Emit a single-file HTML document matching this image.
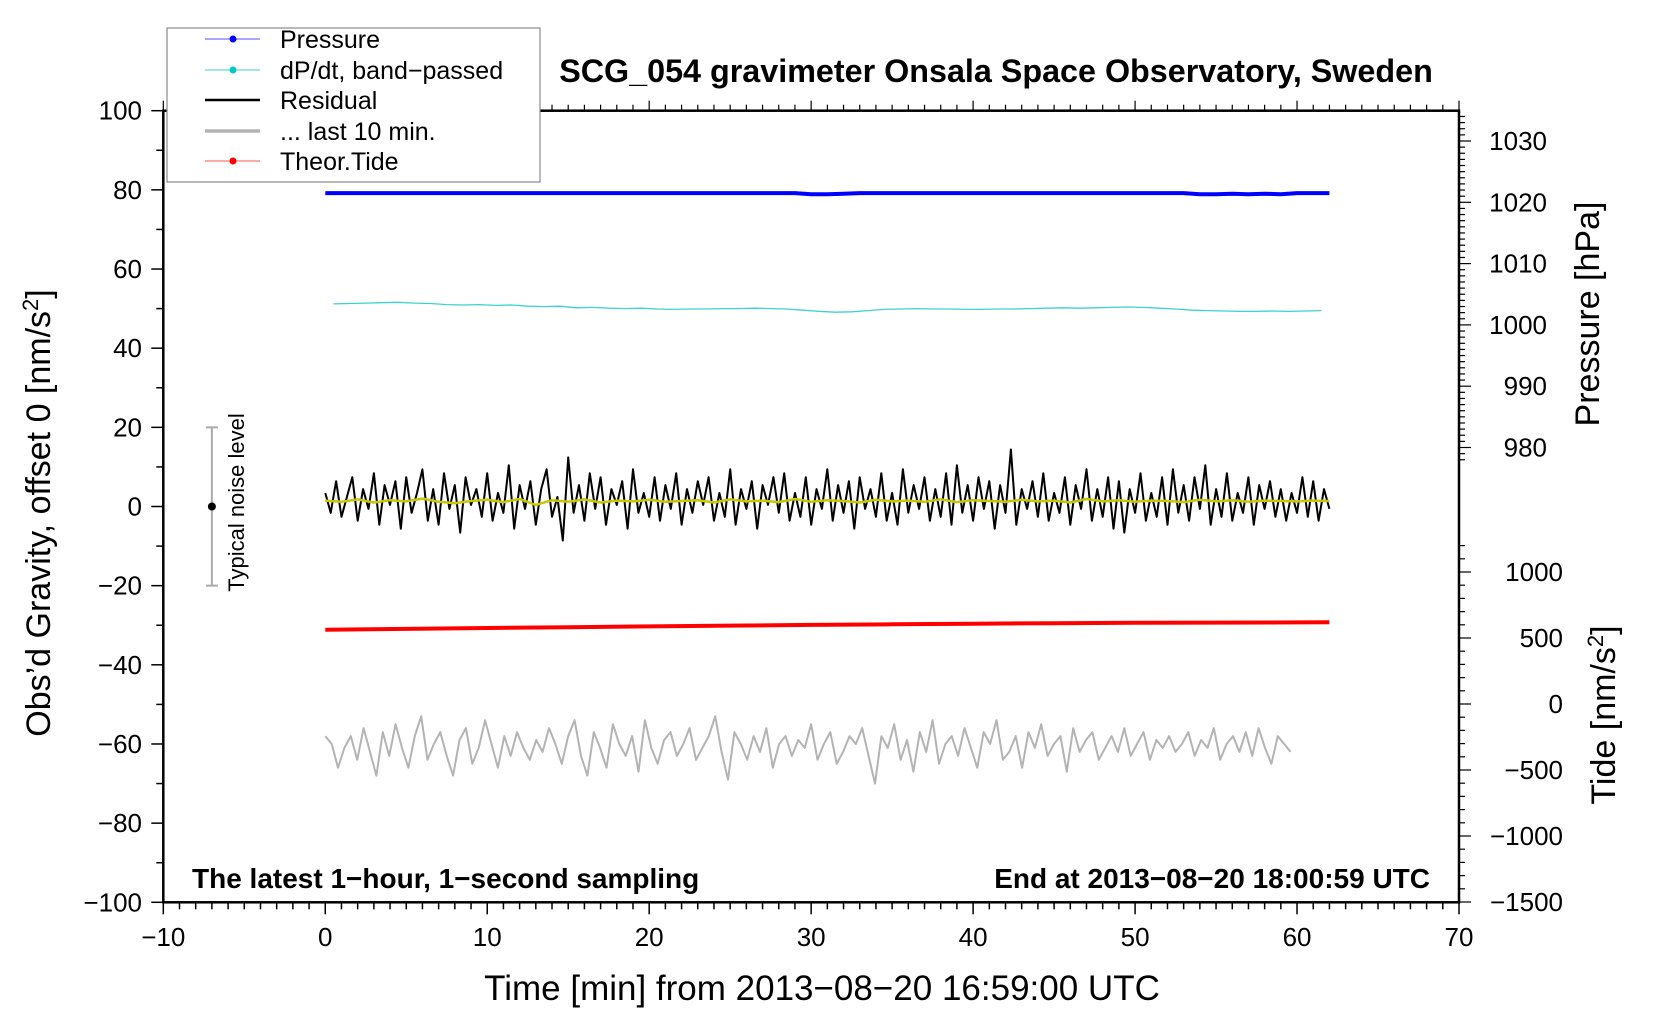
<!DOCTYPE html>
<html><head><meta charset="utf-8"><style>
html,body{margin:0;padding:0;background:#fff;}
svg{display:block;font-family:"Liberation Sans",Arial,sans-serif;}
</style></head><body>
<svg id="chart" width="1660" height="1020" viewBox="0 0 1660 1020" xmlns="http://www.w3.org/2000/svg"></svg>
<script>
// ---- data ----
const xTicks = [-10,0,10,20,30,40,50,60,70];
const yTicks = [-100,-80,-60,-40,-20,0,20,40,60,80,100];
const pTicks = [980,990,1000,1010,1020,1030];
const tTicks = [-1500,-1000,-500,0,500,1000];
// pressure [hPa], one value per minute 0..62
const pressure = [1021.5,1021.5,1021.5,1021.5,1021.5,1021.5,1021.5,1021.5,1021.5,1021.5,1021.5,1021.5,1021.5,1021.5,1021.5,1021.5,1021.5,1021.5,1021.5,1021.5,1021.5,1021.5,1021.5,1021.5,1021.5,1021.5,1021.5,1021.5,1021.5,1021.5,1021.3,1021.3,1021.4,1021.5,1021.5,1021.5,1021.5,1021.5,1021.5,1021.5,1021.5,1021.5,1021.5,1021.5,1021.5,1021.5,1021.5,1021.5,1021.5,1021.5,1021.5,1021.5,1021.5,1021.5,1021.3,1021.3,1021.4,1021.3,1021.4,1021.3,1021.5,1021.5,1021.5];
// dP/dt band-passed (plotted on left axis), per minute 0.5..61.5
const dpdt = [51.2,51.3,51.4,51.5,51.6,51.4,51.3,51.0,50.9,51.0,50.8,50.9,50.6,50.5,50.6,50.2,50.3,50.1,50.0,50.1,49.9,49.8,49.9,49.9,50.0,50.0,50.1,50.0,49.9,49.6,49.3,49.1,49.2,49.5,49.8,49.9,50.0,49.9,49.9,49.8,49.8,49.9,49.9,50.0,50.1,50.2,50.1,50.2,50.3,50.4,50.3,50.1,49.9,49.6,49.5,49.4,49.3,49.3,49.4,49.3,49.4,49.5];
// theoretical tide [nm/s^2], every 5 min
const tide = [563,569,576,582,588,594,599,604,608,612,615,617,619];
const tideT = [0,5,10,15,20,25,30,35,40,45,50,55,62];
// residual gravity, sampled every 20 s (0..62 min)
const residual = [2,-3,5,-4,1,6,-5,3,-2,7,-6,4,-1,5,-7,6,-3,2,8,-5,3,-6,7,-2,4,-8,6,-1,3,-4,7,-5,2,-3,9,-7,4,-2,5,-6,3,8,-4,1,-10,11,-3,4,-5,7,-2,6,-6,3,-1,5,-7,8,-3,2,-4,6,-5,4,-2,7,-6,3,-3,5,-1,6,-5,2,-4,8,-6,3,-2,5,-7,4,-1,6,-3,7,-5,2,-4,6,-6,3,-2,8,-5,4,-3,5,-7,6,-2,3,-4,7,-5,2,-6,8,-3,4,-2,6,-5,3,-4,7,-6,9,-3,4,-5,6,-2,5,-7,4,-3,13,-6,3,-2,5,-4,7,-5,2,-3,6,-6,4,-2,8,-5,3,-4,6,-7,5,-8,3,-3,7,-5,2,-4,6,-6,8,-3,4,-5,6,-2,9,-6,3,-4,7,-5,2,-3,6,-6,4,-2,5,-4,3,-5,2,-3,6,-4,5,-5,3,-2];
// running mean of residual (yellow), every 1 min
const resMean = [1.5,1.2,1.8,1.0,1.6,1.3,2.0,1.2,0.8,1.4,1.7,1.1,1.9,0.4,1.6,1.2,1.8,1.0,1.5,1.3,1.7,1.2,1.4,1.6,1.0,1.8,1.3,1.5,1.1,1.9,1.2,1.6,1.4,1.0,1.7,1.3,1.5,1.2,1.8,1.1,1.6,1.4,1.2,1.7,1.3,1.5,1.0,1.9,1.3,1.6,1.2,1.5,1.4,1.1,1.7,1.3,1.6,1.2,1.5,1.4,1.3,1.5,1.4];
// last 10 min (stretched onto 0..59.6)
const last10 = [-58,-60,-66,-61,-58,-64,-56,-62,-68,-57,-63,-55,-61,-66,-58,-53,-64,-60,-57,-63,-68,-59,-56,-65,-61,-54,-60,-66,-58,-63,-57,-61,-64,-59,-62,-56,-60,-65,-58,-54,-63,-68,-57,-61,-66,-55,-60,-63,-58,-67,-54,-61,-65,-59,-57,-63,-60,-56,-64,-61,-58,-53,-62,-69,-57,-60,-64,-58,-62,-56,-66,-60,-58,-63,-59,-61,-55,-64,-60,-57,-65,-62,-58,-60,-56,-63,-70,-58,-61,-55,-64,-59,-67,-57,-62,-54,-65,-60,-58,-63,-56,-61,-66,-57,-60,-54,-64,-62,-58,-66,-57,-61,-55,-63,-60,-58,-67,-56,-62,-59,-57,-64,-61,-58,-62,-56,-63,-60,-57,-64,-59,-61,-58,-62,-60,-57,-63,-59,-61,-56,-64,-60,-58,-62,-57,-63,-56,-61,-65,-58,-60,-62];

// ---- layout ----
const L=163.3,R=1459,T=110.7,B=902.3;
const xS = v => L + (v+10)*(R-L)/80;
const yS = v => T + (100-v)*(B-T)/200;
const pS = v => 324.9 - (v-1000)*6.13;
const tS = v => 704 - v*0.132;
const svg=document.getElementById('chart');
const NS='http://www.w3.org/2000/svg';
function el(tag,attrs,parent){const e=document.createElementNS(NS,tag);for(const k in attrs)e.setAttribute(k,attrs[k]);(parent||svg).appendChild(e);return e;}
function txt(s,attrs,name){const e=el('text',attrs);e.textContent=s;


return e;}
function line(x1,y1,x2,y2,st,sw,name){const e=el('line',{x1,y1,x2,y2,stroke:st,'stroke-width':sw});


return e;}
function poly(pts,st,sw,name){const e=el('polyline',{points:pts.map(p=>p[0].toFixed(1)+','+p[1].toFixed(1)).join(' '),fill:'none',stroke:st,'stroke-width':sw,'stroke-linejoin':'round'});


return e;}

// series
poly(last10.map((v,i)=>[xS(i*59.6/(last10.length-1)),yS(v)]),'#b3b3b3',2,'last-10-min-line');
poly(tide.map((v,i)=>[xS(tideT[i]),tS(v)]),'#ff0000',4,'theoretical-tide-line');
poly(residual.map((v,i)=>[xS(i/3),yS(v+1.4)]),'#000',2,'residual-line');
poly(resMean.map((v,i)=>[xS(i),yS(v)]),'#c8c800',2.5,'residual-mean-line');
poly(dpdt.map((v,i)=>[xS(i+0.5),yS(v)]),'#40d0d0',1.3,'dpdt-line');
poly(pressure.map((v,i)=>[xS(i),pS(v)]),'#0000ff',4,'pressure-line');

// frame
const fr=el('rect',{x:L,y:T,width:R-L,height:B-T,fill:'none',stroke:'#000','stroke-width':2.5});


// x ticks
for(let m=-10;m<=70;m++){const maj=m%10===0;
line(xS(m),B,xS(m),B+(maj?12:7),'#000',1.5,'x-tick');
line(xS(m),T,xS(m),T-(maj?10:6),'#000',1.2,'x-top-tick');}
xTicks.forEach(v=>txt(String(v).replace('-','\u2212'),{x:xS(v),y:946,'font-size':26,'text-anchor':'middle'},'x-tick-label'));
// y ticks
for(let v=-100;v<=100;v+=10){line(L,yS(v),L-(v%20===0?12:7),yS(v),'#000',1.5,'y-tick');}
yTicks.forEach(v=>txt(String(v).replace('-','\u2212'),{x:142,y:yS(v)+9,'font-size':26,'text-anchor':'end'},'y-tick-label'));
// pressure ticks
for(let v=975;v<=1035;v++){if(pS(v)<T||pS(v)>460)continue;line(R,pS(v),R+(v%10===0?12:6),pS(v),'#000',1.2,'pressure-tick');}
pTicks.forEach(v=>txt(String(v),{x:1547,y:pS(v)+9,'font-size':26,'text-anchor':'end'},'pressure-tick-label'));
// tide ticks
for(let v=-1500;v<=1200;v+=100){if(tS(v)<470)continue;line(R,tS(v),R+(v%500===0?12:6),tS(v),'#000',1.2,'tide-tick');}
tTicks.forEach(v=>txt(String(v).replace('-','\u2212'),{x:1563,y:tS(v)+9,'font-size':26,'text-anchor':'end'},'tide-tick-label'));

// noise bar
const nx=xS(-7);
line(nx,yS(20),nx,yS(-20),'#aaa',2,'noise-bar');
line(nx-6,yS(20),nx+6,yS(20),'#aaa',2,'noise-bar-cap-top');
line(nx-6,yS(-20),nx+6,yS(-20),'#aaa',2,'noise-bar-cap-bottom');
const nd=el('circle',{cx:nx,cy:yS(0),r:4,fill:'#000'});


txt('Typical noise level',{x:0,y:0,'font-size':22,'text-anchor':'middle',transform:`translate(244,${yS(0)-4}) rotate(-90)`},'noise-label');

// titles
txt('SCG_054 gravimeter Onsala Space Observatory, Sweden',{x:996,y:82,'font-size':32.3,'font-weight':'bold','text-anchor':'middle'},'chart-title');
txt('The latest 1\u2212hour, 1\u2212second sampling',{x:192,y:888,'font-size':28,'font-weight':'bold'},'subtitle-left');
txt('End at 2013\u221208\u221220 18:00:59 UTC',{x:1430,y:888,'font-size':28,'font-weight':'bold','text-anchor':'end'},'subtitle-right');
txt('Time [min] from 2013\u221208\u221220 16:59:00 UTC',{x:822,y:1000,'font-size':35,'text-anchor':'middle'},'x-axis-title');
const yt=txt('',{x:0,y:0,'font-size':34,'text-anchor':'middle',transform:'translate(50,513) rotate(-90)'},'y-axis-title');
yt.innerHTML='Obs\u2019d Gravity, offset 0 [nm/s<tspan dy="-12" font-size="22">2</tspan><tspan dy="12">]</tspan>';
txt('Pressure [hPa]',{x:0,y:0,'font-size':34,'text-anchor':'middle',transform:'translate(1599,314) rotate(-90)'},'pressure-axis-title');
const tt=txt('',{x:0,y:0,'font-size':34,'text-anchor':'middle',transform:'translate(1615,715) rotate(-90)'},'tide-axis-title');
tt.innerHTML='Tide [nm/s<tspan dy="-12" font-size="22">2</tspan><tspan dy="12">]</tspan>';

// legend
const lg=el('rect',{x:167,y:28,width:373,height:154,fill:'#fff',stroke:'#888','stroke-width':1.2});


const legNames=['Pressure','dP/dt, band\u2212passed','Residual','... last 10 min.','Theor.Tide'];
const legCols=['#5050ff','#40d0d0','#000','#b3b3b3','#ff5050'];
const legDots=['#0000ff','#00c8c8',null,null,'#ff0000'];
const legW=[1,1,2.5,3.5,1];
const legY=[39,70,100,131,161];
legNames.forEach((n,i)=>{
line(205,legY[i],260,legY[i],legCols[i],legW[i],'legend-line');
if(legDots[i]){const c=el('circle',{cx:233,cy:legY[i],r:3.5,fill:legDots[i]});

}
txt(n,{x:280,y:legY[i]+9,'font-size':25},'legend-entry');
});
</script>
</body></html>
